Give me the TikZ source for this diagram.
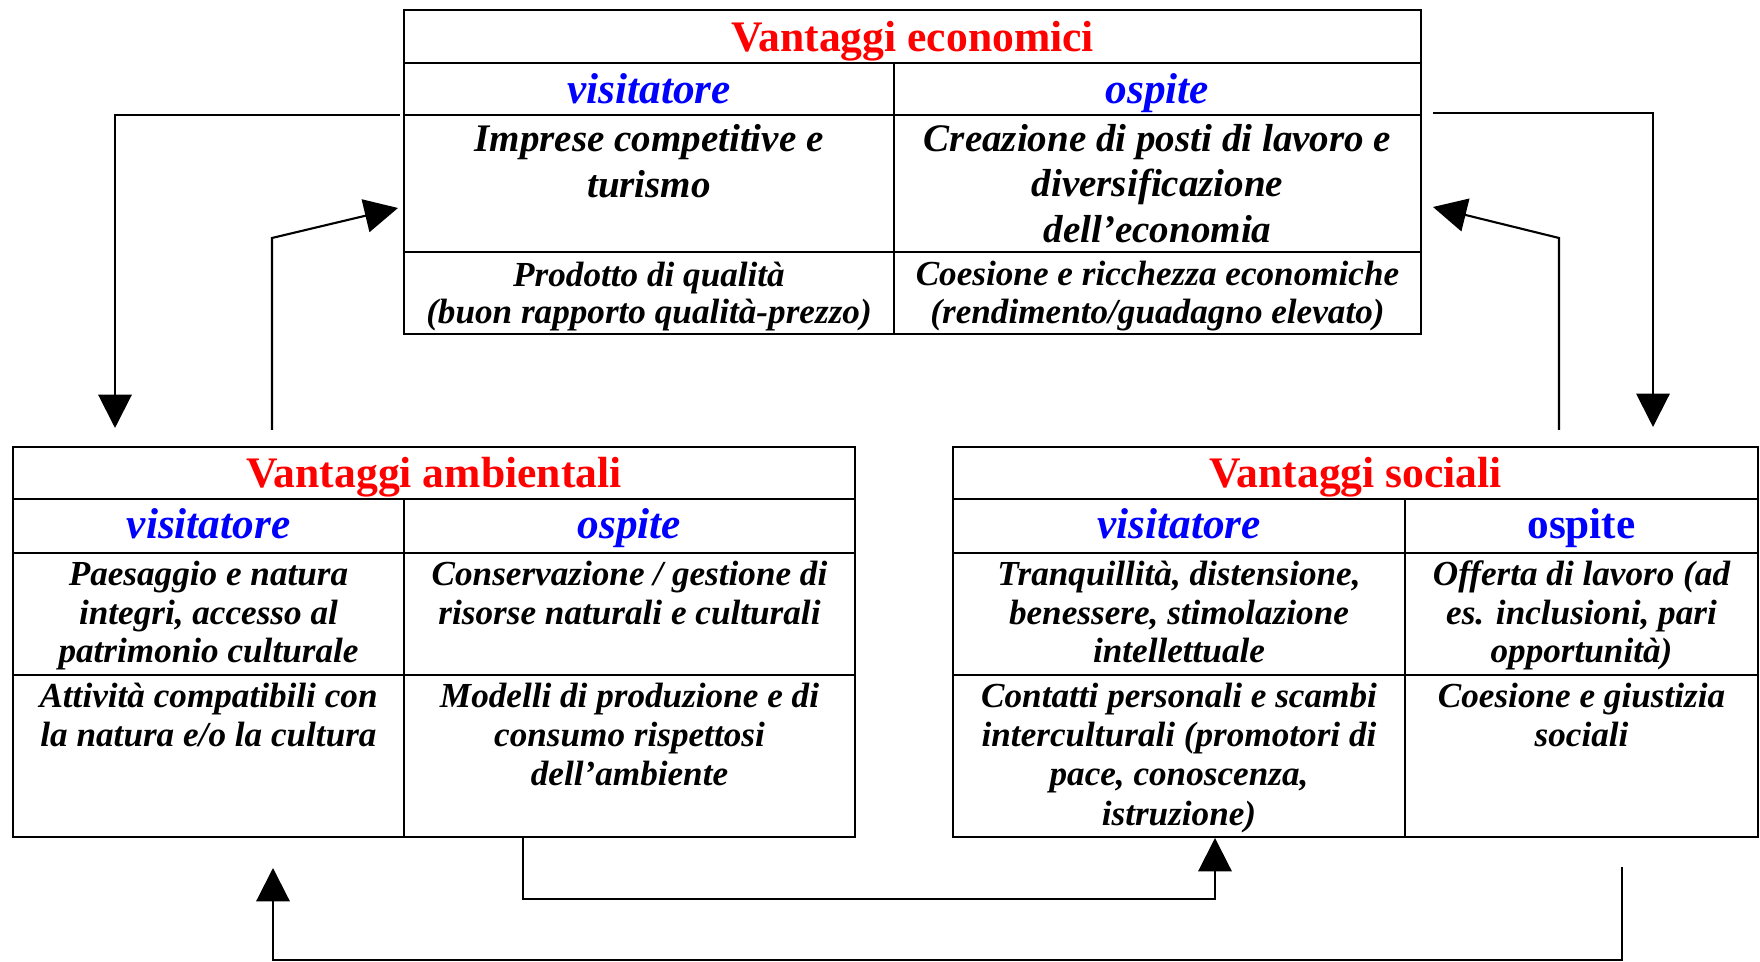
\documentclass[tikz,border=0pt]{standalone}
\usepackage{fontspec}
\setmainfont{Liberation Serif}
\usetikzlibrary{arrows.meta}

\tikzset{
  titolo/.style={anchor=base,inner sep=0pt,text=red,font=\fontsize{12.4}{14}\selectfont\bfseries},
  intest/.style={anchor=base,inner sep=0pt,text=blue,font=\fontsize{12.3}{14}\selectfont\bfseries\itshape},
  intestdritto/.style={intest,font=\fontsize{12.3}{14}\selectfont\bfseries},
  testo/.style={anchor=base,inner sep=0pt,align=center,font=\fontsize{10}{10.95}\selectfont\bfseries\itshape},
  testobasso/.style={testo,font=\fontsize{10}{11.2}\selectfont\bfseries\itshape},
  testogrande/.style={testo,font=\fontsize{11.1}{12.95}\selectfont\bfseries\itshape},
  testostretto/.style={testo,font=\fontsize{10}{10.8}\selectfont\bfseries\itshape},
  freccia/.style={-{Triangle[length=9.5pt,width=9.5pt]},line width=0.6pt}
}

\begin{document}
\begin{tikzpicture}[x=0.01cm,y=-0.01cm,line width=0.7pt]
\useasboundingbox(0,0) rectangle (1760,962);
% Vantaggi economici (testi: base = ultima riga)
\draw(404,10) rectangle (1421,334);
\draw(404,63)--(1421,63);
\draw(404,115)--(1421,115);
\draw(404,252)--(1421,252);
\draw(894,63)--(894,334);
\node[titolo] (ecoT) at (912.5,52) {Vantaggi economici};
\node[intest] (ecoV) at (649,104) {visitatore};
\node[intest] (ecoO) at (1157.5,104) {ospite};
\node[testogrande] (ecoV1) at (649,197.5) {Imprese competitive e\\turismo};
\node[testogrande] (ecoO1) at (1157.5,242.5) {Creazione di posti di lavoro e\\diversificazione\\dell'economia};
\node[testostretto] (ecoV2) at (649,324) {Prodotto di qualità\\(buon rapporto qualità-prezzo)};
\node[testostretto] (ecoO2) at (1157.5,323.5) {Coesione e ricchezza economiche\\(rendimento/guadagno elevato)};
%
% Vantaggi ambientali
\draw(13,447) rectangle (855,837);
\draw(13,499)--(855,499);
\draw(13,553)--(855,553);
\draw(13,675)--(855,675);
\draw(404,499)--(404,837);
\node[titolo] (ambT) at (434,488) {Vantaggi ambientali};
\node[intest] (ambV) at (208.5,539) {visitatore};
\node[intest] (ambO) at (629.5,539) {ospite};
\node[testo] (ambV1) at (208.5,663) {Paesaggio e natura\\integri, accesso al\\patrimonio culturale};
\node[testo] (ambO1) at (629.5,624.5) {Conservazione / gestione di\\risorse naturali e culturali};
\node[testobasso] (ambV2) at (208.5,746.4) {Attività compatibili con\\la natura e/o la cultura};
\node[testobasso] (ambO2) at (629.5,785.8) {Modelli di produzione e di\\consumo rispettosi\\dell'ambiente};
%
% Vantaggi sociali
\draw(953,447) rectangle (1758,837);
\draw(953,499)--(1758,499);
\draw(953,553)--(1758,553);
\draw(953,675)--(1758,675);
\draw(1405,499)--(1405,837);
\node[titolo] (socT) at (1355.5,488) {Vantaggi sociali};
\node[intest] (socV) at (1179,539) {visitatore};
\node[intestdritto] (socO) at (1581.5,539) {ospite};
\node[testo] (socV1) at (1179,663) {Tranquillità, distensione,\\benessere, stimolazione\\intellettuale};
\node[testo] (socO1) at (1581.5,663) {Offerta di lavoro (ad\\es. inclusioni, pari\\opportunità)};
\node[testobasso] (socV2) at (1179,825.2) {Contatti personali e scambi\\interculturali (promotori di\\pace, conoscenza,\\istruzione)};
\node[testobasso] (socO2) at (1581.5,746.4) {Coesione e giustizia\\sociali};
%
% frecce
\coordinate (e1) at (400,115);
\coordinate (a1) at (115,428);
\coordinate (a2) at (272,430);
\coordinate (e2) at (398,208);
\coordinate (e3) at (1433,113);
\coordinate (s1) at (1653,427);
\coordinate (s2) at (1559,430);
\coordinate (e4) at (1433,207);
\coordinate (a3) at (523,837);
\coordinate (s3) at (1215,838);
\coordinate (s4) at (1622,867);
\coordinate (a4) at (273,868);
\draw[freccia](e1)-|(a1);
\draw[freccia](a2)--++(0,-192)--(e2);
\draw[freccia](e3)-|(s1);
\draw[freccia](s2)--++(0,-192)--(e4);
\draw[freccia](a3)--++(0,62)-|(s3);
\draw[freccia](s4)--++(0,93)-|(a4);
\end{tikzpicture}
\end{document}
